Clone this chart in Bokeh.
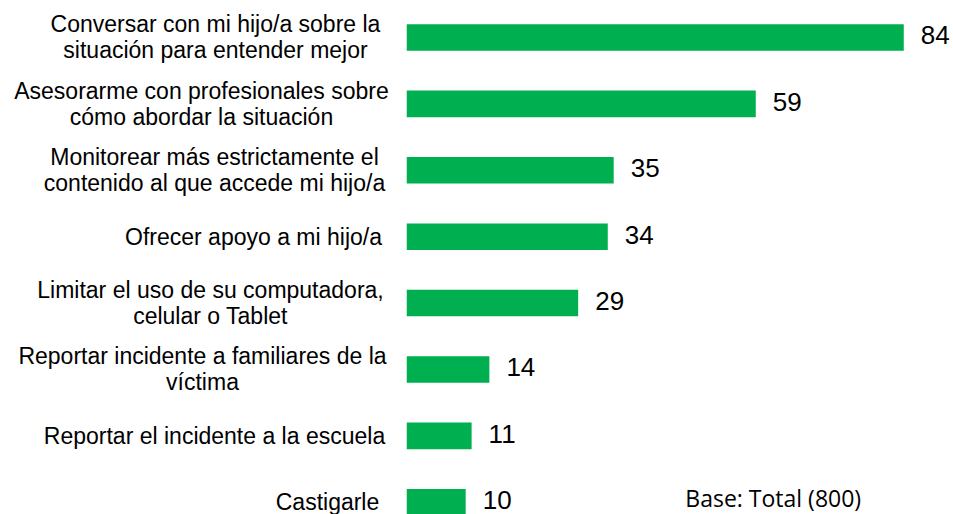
from bokeh.plotting import figure
from bokeh.models import Range1d, ColumnDataSource, LabelSet, Label
from bokeh.layouts import row
from bokeh.core.properties import value
from bokeh.embed import file_html
from bokeh.resources import INLINE

categories = [
    "Conversar con mi hijo/a sobre la\nsituación para entender mejor",
    "Asesorarme con profesionales sobre\ncómo abordar la situación",
    "Monitorear más estrictamente el\ncontenido al que accede mi hijo/a",
    "Ofrecer apoyo a mi hijo/a",
    "Limitar el uso de su computadora,\ncelular o Tablet",
    "Reportar incidente a familiares de la\nvíctima",
    "Reportar el incidente a la escuela",
    "Castigarle",
]
values = [84, 59, 35, 34, 29, 14, 11, 10]
note_text = "Base: Total (800)"

# layout: horizontal centre (px) of each category text block; lines are centred
LEFT_W = 406
label_centers = [215, 201, 214, 253, 210, 202, 214, 327]
LINE_GAP = 26

positions = list(range(len(categories)))
source = ColumnDataSource(dict(
    y=positions,
    value=values,
    label=[str(v) for v in values],
))

lx, ly, lt, lo = [], [], [], []
for i, (cat, cx) in enumerate(zip(categories, label_centers)):
    lines = cat.split("\n")
    n = len(lines)
    for k, line in enumerate(lines):
        lx.append(cx)
        ly.append(i)
        lt.append(line)
        lo.append((k - (n - 1) / 2) * LINE_GAP)
label_src = ColumnDataSource(dict(x=lx, y=ly, t=lt, off=lo))

y_range = Range1d(7.184, -0.557)

left = figure(
    width=LEFT_W, height=514,
    output_backend="svg", toolbar_location=None,
    x_range=Range1d(0, LEFT_W), y_range=y_range,
    min_border_left=0, min_border_right=0, min_border_top=0, min_border_bottom=0,
    outline_line_color=None,
)
left.axis.visible = False
left.grid.visible = False
left.text(x="x", y="y", text="t", y_offset="off", source=label_src,
          text_align="center", text_baseline="middle",
          text_font=value("Liberation Sans"), text_font_size="23px",
          text_color="#000000")

p = figure(
    width=953 - LEFT_W, height=514,
    output_backend="svg", toolbar_location=None,
    x_range=Range1d(0, 92.4), y_range=y_range,
    min_border_left=0, min_border_right=0, min_border_top=0, min_border_bottom=0,
    outline_line_color=None,
)
p.axis.visible = False
p.grid.visible = False

p.hbar(y="y", right="value", left=0, height=0.4, source=source,
       fill_color="#00B050", line_color=None)

val_labels = LabelSet(x="value", y="y", text="label", source=source,
                      x_offset=17, y_offset=2, text_baseline="middle", text_align="left",
                      text_font=value("Liberation Sans"), text_font_size="26px",
                      text_color="#000000")
p.add_layout(val_labels)

note = Label(x=47.1, y=len(categories) - 1, text=note_text,
             text_font="Open Sans", text_font_size="23px", text_color="#000000",
             text_baseline="middle", text_align="left", y_offset=4)
p.add_layout(note)

layout = row(left, p)
open("out.html", "w").write(file_html(layout, INLINE))
